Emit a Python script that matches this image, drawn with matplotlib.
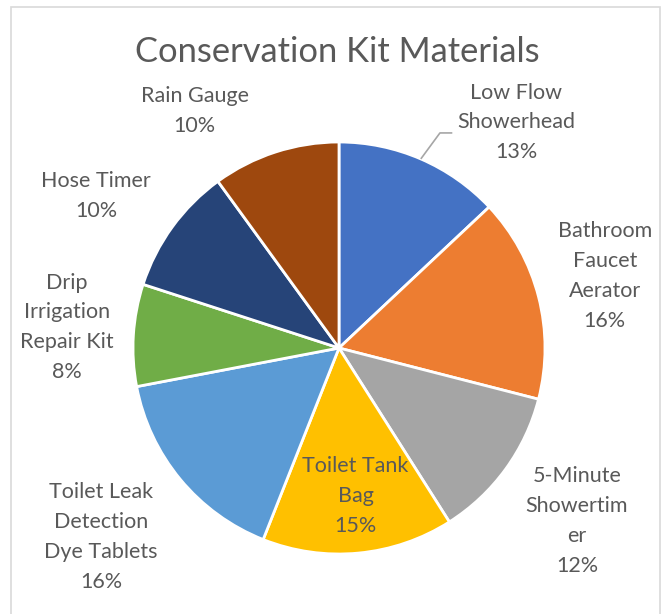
import matplotlib
matplotlib.use('Agg')
import matplotlib.pyplot as plt
from matplotlib.patches import Rectangle
import numpy as np

# Kit items and their share of materials (%)
categories = ['Low Flow Showerhead', 'Bathroom Faucet Aerator', '5-Minute Showertimer',
              'Toilet Tank Bag', 'Toilet Leak Detection Dye Tablets',
              'Drip Irrigation Repair Kit', 'Hose Timer', 'Rain Gauge']
shares = [13, 16, 12, 15, 16, 8, 10, 10]
# names as they wrap in the label boxes
wrapped = ['Low Flow\nShowerhead', 'Bathroom\nFaucet\nAerator', '5-Minute\nShowertim\ner',
           'Toilet Tank\nBag', 'Toilet Leak\nDetection\nDye Tablets',
           'Drip\nIrrigation\nRepair Kit', 'Hose Timer', 'Rain Gauge']

colors = ['#4472C4', '#ED7D31', '#A5A5A5', '#FFC000',
          '#5B9BD5', '#70AD47', '#264478', '#9E480E']
# label box centres, in units of the pie radius
label_pos = [(0.86, 1.095), (1.29, 0.35), (1.155, -0.84), (0.08, -0.72),
             (-1.155, -0.917), (-1.32, 0.10), (-1.18, 0.74), (-0.70, 1.15)]

plt.rcParams['font.family'] = ['Lato', 'DejaVu Sans']
txt = '#595959'

W, H = 662, 614
cx, cy, R = 339, 348, 206

fig = plt.figure(figsize=(W / 100, H / 100), dpi=100)
ax = fig.add_axes([0, 0, 1, 1])
wedges, _ = ax.pie(shares, colors=colors, startangle=90, counterclock=False,
                   radius=1, wedgeprops=dict(edgecolor='white', linewidth=2))
ax.set_xlim(-cx / R, (W - cx) / R)
ax.set_ylim(-(H - cy) / R, cy / R)
ax.set_aspect('auto')
ax.axis('off')

for name, val, (lx, ly) in zip(wrapped, shares, label_pos):
    ax.text(lx, ly, f'{name}\n{val}%', ha='center', va='center', fontsize=15.5,
            color=txt, linespacing=1.62)

# leader line for the first slice
w = wedges[0]
mid = np.deg2rad((w.theta1 + w.theta2) / 2)
x0, y0 = np.cos(mid), np.sin(mid)
ax.plot([x0, 0.49, 0.55], [y0, 1.044, 1.044], color='#A6A6A6', lw=1.2,
        solid_capstyle='butt')

fig.text(337 / W, 1 - 52 / H, 'Conservation Kit Materials', ha='center', va='center',
         fontsize=24.8, color=txt)

fig.patches.append(Rectangle((11 / W, -0.01), (660 - 11) / W, 1 - 7 / H + 0.01,
                             transform=fig.transFigure, fill=False,
                             edgecolor='#D9D9D9', lw=1.2))

fig.savefig('out.png', dpi=100)
